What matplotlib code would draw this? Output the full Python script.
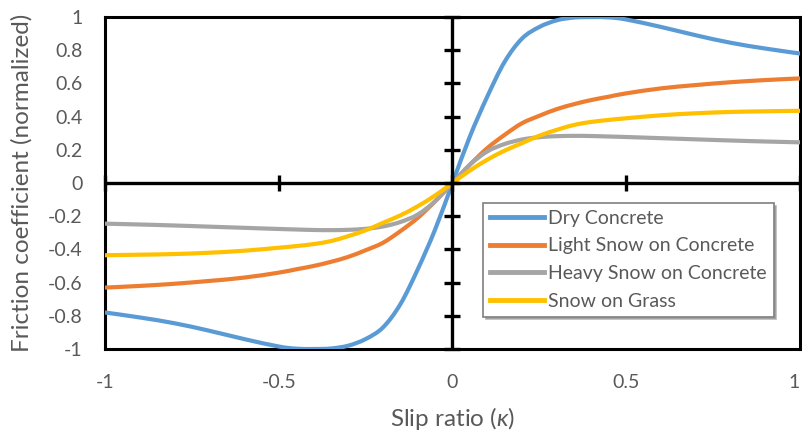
import matplotlib
matplotlib.use("Agg")
import matplotlib.pyplot as plt
from matplotlib.path import Path
from matplotlib.patches import PathPatch
from matplotlib.lines import Line2D

# slip ratio samples
kappa = [-1.0, -0.9, -0.8, -0.7, -0.6, -0.5, -0.45, -0.4, -0.35, -0.3, -0.25, -0.2, -0.15, -0.1, -0.05,
         0.0, 0.05, 0.1, 0.15, 0.2, 0.25, 0.3, 0.35, 0.4, 0.45, 0.5, 0.6, 0.7, 0.8, 0.9, 1.0]

dry_concrete = [-0.78, -0.81, -0.845, -0.89, -0.94, -0.985, -0.998, -1.0, -0.997, -0.98, -0.94, -0.87, -0.73, -0.52, -0.28,
                0.0, 0.28, 0.52, 0.73, 0.87, 0.94, 0.98, 0.997, 1.0, 0.998, 0.985, 0.94, 0.89, 0.845, 0.81, 0.78]
light_snow = [-0.63, -0.62, -0.607, -0.59, -0.57, -0.54, -0.52, -0.50, -0.475, -0.445, -0.405, -0.36, -0.29, -0.21, -0.11,
              0.0, 0.11, 0.21, 0.29, 0.36, 0.405, 0.445, 0.475, 0.50, 0.52, 0.54, 0.57, 0.59, 0.607, 0.62, 0.63]
heavy_snow = [-0.245, -0.25, -0.256, -0.263, -0.27, -0.277, -0.28, -0.283, -0.284, -0.282, -0.276, -0.262, -0.235, -0.19, -0.11,
              0.0, 0.11, 0.19, 0.235, 0.262, 0.276, 0.282, 0.284, 0.283, 0.28, 0.277, 0.27, 0.263, 0.256, 0.25, 0.245]
snow_grass = [-0.435, -0.432, -0.428, -0.42, -0.408, -0.39, -0.38, -0.368, -0.35, -0.32, -0.285, -0.24, -0.195, -0.14, -0.075,
              0.0, 0.075, 0.14, 0.195, 0.24, 0.285, 0.32, 0.35, 0.368, 0.38, 0.39, 0.408, 0.42, 0.428, 0.432, 0.435]

labels = ["Dry Concrete", "Light Snow on Concrete", "Heavy Snow on Concrete", "Snow on Grass"]
colors = ["#5B9BD5", "#ED7D31", "#A5A5A5", "#FFC000"]

xticks = [-1, -0.5, 0, 0.5, 1]
xticklabels = ["-1", "-0.5", "0", "0.5", "1"]
yticks = [-1, -0.8, -0.6, -0.4, -0.2, 0, 0.2, 0.4, 0.6, 0.8, 1]
yticklabels = ["-1", "-0.8", "-0.6", "-0.4", "-0.2", "0", "0.2", "0.4", "0.6", "0.8", "1"]

plt.rcParams['font.family'] = ['Lato', 'DejaVu Sans']
plt.rcParams['mathtext.fontset'] = 'custom'
plt.rcParams['mathtext.rm'] = 'Lato'
plt.rcParams['mathtext.it'] = 'Lato:italic'
grey = "#595959"


def smooth_path(xs, ys):
    # excel-like smoothed line: bezier segments through the points
    pts = list(zip(xs, ys))
    verts = [pts[0]]
    codes = [Path.MOVETO]
    n = len(pts)
    for i in range(n - 1):
        p0 = pts[max(i - 1, 0)]
        p1 = pts[i]
        p2 = pts[i + 1]
        p3 = pts[min(i + 2, n - 1)]
        c1 = (p1[0] + (p2[0] - p0[0]) / 6, p1[1] + (p2[1] - p0[1]) / 6)
        c2 = (p2[0] - (p3[0] - p1[0]) / 6, p2[1] - (p3[1] - p1[1]) / 6)
        verts += [c1, c2, p2]
        codes += [Path.CURVE4] * 3
    return Path(verts, codes)


fig = plt.figure(figsize=(8.03, 4.34), dpi=100)
ax = fig.add_axes([105 / 803, 85 / 434, 695 / 803, 332 / 434])

handles = []
for ys, lab, col in zip([dry_concrete, light_snow, heavy_snow, snow_grass], labels, colors):
    ax.add_patch(PathPatch(smooth_path(kappa, ys), fill=False, edgecolor=col, lw=3.0,
                           capstyle='round', zorder=3))
    handles.append(Line2D([], [], color=col, lw=3.5, label=lab))

ax.set_xlim(-1, 1)
ax.set_ylim(-1, 1)

# zero axes with crossing tick marks
ax.axhline(0, color='black', lw=2.4, zorder=4)
ax.axvline(0, color='black', lw=2.4, zorder=4)
ax.plot(xticks, [0] * len(xticks), ls='none', marker='|', ms=12, mew=2.4, color='black', zorder=4, clip_on=False)
ax.plot([0] * len(yticks), yticks, ls='none', marker='_', ms=12, mew=2.4, color='black', zorder=4, clip_on=False)

for s in ax.spines.values():
    s.set_linewidth(2.2)
    s.set_color('black')

ax.set_xticks(xticks)
ax.set_xticklabels(xticklabels)
ax.set_yticks(yticks)
ax.set_yticklabels(yticklabels)
ax.tick_params(length=0, labelsize=14, labelcolor=grey, pad=16)
ax.tick_params(axis='x', pad=18)
ax.get_xticklabels()[-1].set_horizontalalignment('right')

ax.set_xlabel("Slip ratio ($\\mathit{\\kappa}$)", fontsize=17.5, color=grey, labelpad=10)
ax.set_ylabel("Friction coefficient (normalized)", fontsize=17.5, color=grey, labelpad=11)

leg = ax.legend(handles=handles, loc='upper left', bbox_to_anchor=((483 - 105) / 695, (349 - 203) / 332),
                fontsize=14, frameon=True, fancybox=False, handlelength=2.8, handletextpad=0.2,
                labelspacing=0.55, borderpad=0.35, borderaxespad=0,
                shadow={'color': '0.55', 'alpha': 0.6})
leg.get_frame().set_edgecolor('#7F7F7F')
leg.get_frame().set_linewidth(1.2)
for t in leg.get_texts():
    t.set_color(grey)

fig.savefig("out.png", dpi=100)
